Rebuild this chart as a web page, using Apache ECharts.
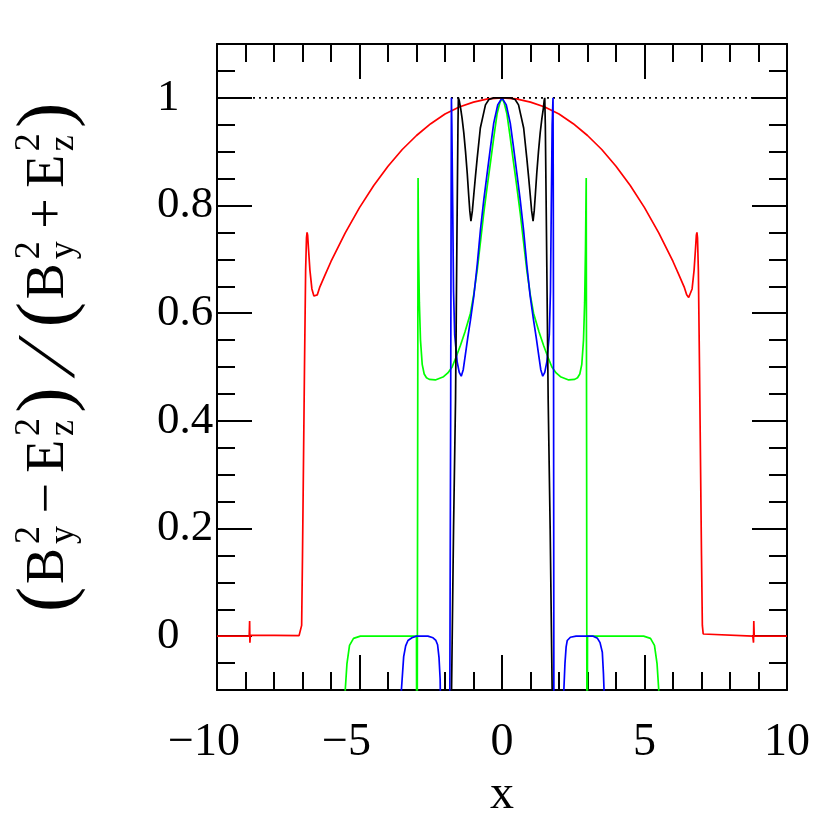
<!DOCTYPE html>
<html><head><meta charset="utf-8">
<script src="https://cdn.jsdelivr.net/npm/echarts@6/dist/echarts.min.js"></script>
<style>html,body{margin:0;padding:0;background:#fff}#c{width:830px;height:830px}</style>
</head><body><div id="c"></div>
<script>
const xTicks = [-10, -5, 0, 5, 10];
const yTicks = [0, 0.2, 0.4, 0.6, 0.8, 1];
const yMinorTicks = [-0.05, 0.05, 0.1, 0.15, 0.25, 0.3, 0.35, 0.45, 0.5, 0.55, 0.65, 0.7, 0.75, 0.85, 0.9, 0.95, 1.05];
const refLine = [[-10, 1], [10, 1]];
const red = [[-10,0],[-8.87,0],[-8.855,0.028],[-8.845,-0.012],[-8.83,0.002],[-8.8,0],[-7.12,0.001],[-7.06,0.004],[-7.03,0.02],[-7.0,0.15],[-6.97,0.3],[-6.93,0.5],[-6.89,0.68],[-6.86,0.74],[-6.84,0.75],[-6.82,0.745],[-6.79,0.72],[-6.74,0.68],[-6.67,0.645],[-6.6,0.632],[-6.55,0.629],[-6.48,0.634],[-6.39,0.649],[-6.2,0.672],[-6.0,0.696],[-5.5,0.749],[-5.0,0.796],[-4.5,0.837],[-4.0,0.873],[-3.5,0.904],[-3.0,0.93],[-2.5,0.952],[-2.0,0.97],[-1.5,0.983],[-1.0,0.992],[-0.5,0.998],[0,1],[0.5,0.998],[1.0,0.992],[1.5,0.983],[2.0,0.97],[2.5,0.952],[3.0,0.93],[3.5,0.904],[4.0,0.873],[4.5,0.837],[5.0,0.796],[5.5,0.749],[6.0,0.696],[6.2,0.672],[6.39,0.649],[6.48,0.634],[6.55,0.629],[6.6,0.632],[6.67,0.645],[6.74,0.68],[6.79,0.72],[6.82,0.745],[6.84,0.75],[6.86,0.74],[6.89,0.68],[6.93,0.5],[6.97,0.3],[7.0,0.15],[7.03,0.02],[7.06,0.004],[7.12,0.001],[8.8,0],[8.815,0.002],[8.825,-0.012],[8.835,0.028],[8.85,0],[10,0]];
const green = [[-5.6,-0.4],[-5.5,-0.1],[-5.44,-0.051],[-5.35,-0.017],[-5.21,-0.004],[-4.97,0],[-3.3,0],[-3.0,0],[-2.985,-0.5],[-2.975,-0.5],[-2.96,0.3],[-2.945,0.851],[-2.93,0.72],[-2.9,0.62],[-2.86,0.55],[-2.8,0.505],[-2.73,0.487],[-2.65,0.48],[-2.55,0.477],[-2.34,0.476],[-2.05,0.482],[-1.9,0.489],[-1.75,0.5],[-1.6,0.52],[-1.46,0.54],[-1.3,0.565],[-1.107,0.6],[-0.99,0.635],[-0.87,0.68],[-0.75,0.735],[-0.64,0.786],[-0.52,0.835],[-0.4,0.882],[-0.28,0.93],[-0.17,0.971],[-0.08,0.99],[0,1],[0.08,0.99],[0.17,0.971],[0.28,0.93],[0.4,0.882],[0.52,0.835],[0.64,0.786],[0.75,0.735],[0.87,0.68],[0.99,0.635],[1.107,0.6],[1.3,0.565],[1.46,0.54],[1.6,0.52],[1.75,0.5],[1.9,0.489],[2.05,0.482],[2.34,0.476],[2.55,0.477],[2.65,0.48],[2.73,0.487],[2.8,0.505],[2.86,0.55],[2.9,0.62],[2.93,0.72],[2.955,0.851],[2.97,0.3],[2.985,-0.5],[2.995,-0.5],[3.0,0],[3.3,0],[4.97,0],[5.21,-0.004],[5.35,-0.017],[5.44,-0.051],[5.5,-0.1],[5.6,-0.4]];
const blue = [[-3.62,-0.4],[-3.53,-0.1],[-3.45,-0.038],[-3.38,-0.018],[-3.3,-0.008],[-3.16,-0.003],[-3.0,0],[-2.6,0],[-2.42,-0.003],[-2.32,-0.008],[-2.26,-0.016],[-2.21,-0.04],[-2.17,-0.08],[-2.14,-0.2],[-2.1,-0.4],[-1.86,-0.4],[-1.83,-0.1],[-1.8,0.44],[-1.785,0.8],[-1.775,1.0],[-1.76,0.95],[-1.73,0.8],[-1.7,0.64],[-1.66,0.56],[-1.575,0.51],[-1.5,0.49],[-1.43,0.483],[-1.36,0.495],[-1.28,0.525],[-1.2,0.555],[-1.107,0.587],[-0.99,0.631],[-0.87,0.69],[-0.756,0.755],[-0.64,0.81],[-0.52,0.86],[-0.4,0.91],[-0.29,0.953],[-0.15,0.987],[0,1],[0.15,0.987],[0.29,0.953],[0.4,0.91],[0.52,0.86],[0.64,0.81],[0.756,0.755],[0.87,0.69],[0.99,0.631],[1.107,0.587],[1.2,0.555],[1.28,0.525],[1.36,0.495],[1.43,0.483],[1.5,0.49],[1.575,0.51],[1.66,0.56],[1.7,0.64],[1.73,0.8],[1.76,0.95],[1.79,1.0],[1.8,0.8],[1.81,0.44],[1.82,-0.1],[1.85,-0.4],[2.12,-0.4],[2.17,-0.1],[2.21,-0.05],[2.25,-0.02],[2.29,-0.008],[2.4,-0.002],[2.6,0],[3.2,0],[3.35,-0.004],[3.44,-0.012],[3.52,-0.03],[3.56,-0.07],[3.58,-0.1],[3.65,-0.4]];
const black = [[-1.82,-0.4],[-1.77,-0.1],[-1.7,0.2],[-1.63,0.44],[-1.58,0.75],[-1.545,0.95],[-1.53,1.0],[-1.5,0.995],[-1.45,0.98],[-1.4,0.962],[-1.34,0.935],[-1.28,0.9],[-1.22,0.86],[-1.17,0.82],[-1.13,0.79],[-1.09,0.771],[-1.04,0.79],[-0.99,0.82],[-0.93,0.855],[-0.87,0.888],[-0.76,0.944],[-0.66,0.968],[-0.58,0.987],[-0.46,0.997],[-0.3,1.0],[0,1.0],[0.3,1.0],[0.46,0.997],[0.58,0.987],[0.66,0.968],[0.76,0.944],[0.87,0.888],[0.93,0.855],[0.99,0.82],[1.04,0.79],[1.09,0.771],[1.13,0.79],[1.17,0.82],[1.22,0.86],[1.28,0.9],[1.34,0.935],[1.4,0.962],[1.45,0.98],[1.48,0.995],[1.5,1.0],[1.52,0.95],[1.56,0.75],[1.62,0.44],[1.69,0.2],[1.76,-0.1],[1.81,-0.4]];

const FONT = '"Liberation Serif", "DejaVu Serif", serif';
const chart = echarts.init(document.getElementById('c'), null, {renderer: 'canvas'});
const LW = 2;

function baseAxis(pos) {
  return {
    type: 'value', position: pos,
    axisLine: {show: true, onZero: false, lineStyle: {color: '#000', width: LW}},
    axisTick: {show: true, inside: true, length: 35, lineStyle: {color: '#000', width: LW}},
    minorTick: {show: false},
    splitLine: {show: false}, minorSplitLine: {show: false},
    axisLabel: {show: false}
  };
}
const xb = Object.assign(baseAxis('bottom'), {min: -10, max: 10, interval: 5});
xb.minorTick = {show: true, splitNumber: 5, length: 18, lineStyle: {color: '#000', width: LW}};
xb.axisLabel = {show: true, margin: 30, color: '#000', fontFamily: FONT, fontSize: 46,
  formatter: v => v < 0 ? '{n|\u2212' + Math.abs(v) + '}' : '' + v,
  rich: {n: {fontFamily: FONT, fontSize: 46, color: '#000', padding: [0, 26, 0, 0]}}};
xb.name = 'x'; xb.nameLocation = 'middle'; xb.nameGap = 74;
xb.nameTextStyle = {fontFamily: FONT, fontSize: 48, color: '#000'};
const xt = Object.assign(baseAxis('top'), {min: -10, max: 10, interval: 5});
xt.minorTick = {show: true, splitNumber: 5, length: 18, lineStyle: {color: '#000', width: LW}};

function yMajor(pos, labels) {
  const a = Object.assign(baseAxis(pos), {min: -0.1, max: 1.1});
  a.axisTick.customValues = yTicks;
  if (labels) {
    a.axisLabel = {show: true, customValues: yTicks, margin: 60, align: 'left', color: '#000',
      fontFamily: FONT, fontSize: 45, formatter: v => String(+(+v).toFixed(1))};
  } else {
    a.axisLabel = {show: false, customValues: yTicks};
  }
  return a;
}
function yMinor(pos) {
  const a = Object.assign(baseAxis(pos), {min: -0.1, max: 1.1});
  a.axisLine = {show: false, onZero: false};
  a.axisTick = {show: true, inside: true, length: 18, customValues: yMinorTicks, lineStyle: {color: '#000', width: LW}};
  a.axisLabel = {show: false, customValues: yMinorTicks};
  return a;
}

function ser(data, color, extra) {
  return Object.assign({type: 'line', data: data, showSymbol: false, symbol: 'none', clip: true,
    xAxisIndex: 0, yAxisIndex: 0, animation: false, silent: true,
    lineStyle: {color: color, width: 1.7}}, extra || {});
}

// Y-axis title built from text pieces (rotated group)
const ctx = document.createElement('canvas').getContext('2d');
function meas(s, size) { ctx.font = size + 'px ' + FONT; return ctx.measureText(s); }
function tw(s, size) { return meas(s, size).width; }
const FS = 54, SS = 36, PS = 76, SLS = 84;
const pieces = [
  {t: '(', s: PS, b: 7}, {t: 'B', s: FS, b: 0}, {sup: '2', sub: 'y'}, {t: '\u2212', s: FS, b: 0, op: true},
  {t: 'E', s: FS, b: 0}, {sup: '2', sub: 'z'}, {t: ')', s: PS, b: 7}, {t: '\u2044', s: SLS, b: 14, ink: true},
  {t: '(', s: PS, b: 7}, {t: 'B', s: FS, b: 0}, {sup: '2', sub: 'y'}, {t: '+', s: FS, b: 0, op: true},
  {t: 'E', s: FS, b: 0}, {sup: '2', sub: 'z'}, {t: ')', s: PS, b: 7}
];
const placed = [];
let pos = 0;
pieces.forEach(p => {
  if (p.sup) {
    placed.push({t: p.sup, s: SS, x: pos, b: -24});
    placed.push({t: p.sub, s: SS, x: pos, b: 10});
    pos += Math.max(tw(p.sup, SS), tw(p.sub, SS)) + 3;
  } else if (p.ink) {
    const m = meas(p.t, p.s);
    const l = m.actualBoundingBoxLeft, r = m.actualBoundingBoxRight;
    pos += 4;
    placed.push({t: p.t, s: p.s, x: pos + l, b: p.b});
    pos += l + r + 4;
  } else {
    if (p.op) pos += 0.12 * FS;
    placed.push({t: p.t, s: p.s, x: pos, b: p.b});
    pos += tw(p.t, p.s);
    if (p.op) pos += 0.12 * FS;
  }
});
const TITLE_LEN = 512;
const f = TITLE_LEN / pos;
const kids = placed.map(q => ({type: 'text', x: q.x * f, y: q.b - 0.305 * q.s,
  style: {text: q.t, font: q.s + 'px ' + FONT, fill: '#000', align: 'left', verticalAlign: 'middle',
    textAlign: 'left', textVerticalAlign: 'middle'}}));

chart.setOption({
  animation: false,
  backgroundColor: '#fff',
  grid: {left: 217, right: 43, top: 44, bottom: 140, containLabel: false},
  xAxis: [xb, xt],
  yAxis: [yMajor('left', true), yMajor('right', false), yMinor('left'), yMinor('right')],
  graphic: [{type: 'group', x: 65, y: 612, rotation: Math.PI / 2, children: kids}],
  series: [
    ser(refLine, '#000', {lineStyle: {color: '#000', width: 1.7, type: [2, 4]}}),
    ser(red, '#ff0000'),
    ser(green, '#00ff00'),
    ser(blue, '#0000ff'),
    ser(black, '#000000')
  ]
});
</script></body></html>
